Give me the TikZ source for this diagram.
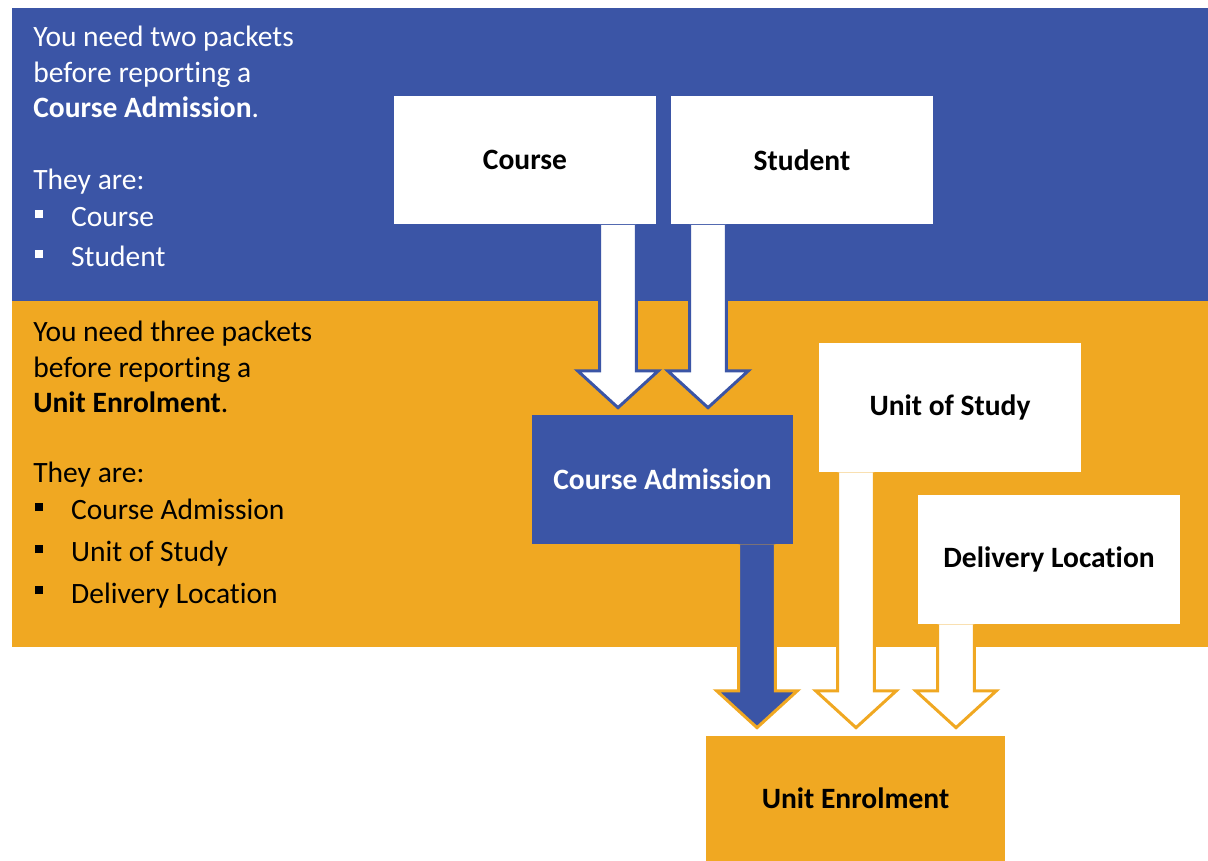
\documentclass[tikz,border=0pt]{standalone}
\usepackage{fontspec}
\setmainfont[Ligatures=NoCommon]{Carlito}
\usetikzlibrary{calc}
\definecolor{pkblue}{RGB}{59,85,166}
\definecolor{pkorange}{RGB}{240,168,34}
\tikzset{
	packet/.style={minimum width=5.24cm,minimum height=2.58cm,inner sep=0pt,font=\fontsize{16.8}{20}\selectfont\bfseries},
	txt/.style={anchor=base west,inner sep=0pt},
	onblue/.style={fill=white,draw=pkblue,line width=1.7pt},
	onorange/.style={fill=white,draw=pkorange,line width=1.7pt},
}
% block arrow: [style]{top of shaft}{tip}
\newcommand{\pkarrow}[3][]{%
	\draw[#1] let \p1=(#2), \p2=(#3) in
	(\x1-10.5pt,\y1) -- (\x1-10.5pt,\y2+21pt) -- (\x1-23pt,\y2+21pt) -- (\x1,\y2)
	-- (\x1+23pt,\y2+21pt) -- (\x1+10.5pt,\y2+21pt) -- (\x1+10.5pt,\y1);}
\newcommand{\sqbul}{\rule[5pt]{4.5pt}{4.5pt}\hspace{15.9pt}}
\begin{document}
\begin{tikzpicture}[x=0.02cm,y=-0.02cm,font=\fontsize{16.8}{20}\selectfont]
		\useasboundingbox (0,0) rectangle (1208,861);
		\fill[pkblue] (12,8) rectangle (1208,301);
		\fill[pkorange] (12,301) rectangle (1208,647);
		% left texts
		\begin{scope}[white]
		\node[txt] (t1) at (33,47) {You need two packets};
		\node[txt] (t2) at (33,83) {before reporting a};
		\node[txt] (t3) at (33,118) {{\bfseries Course Admission}.};
		\node[txt] (t4) at (33,190) {They are:};
		\node[txt] (t5) at (35,227) {\sqbul Course};
		\node[txt] (t6) at (35,267) {\sqbul Student};
		\end{scope}
		\node[txt] (u1) at (33,342) {You need three packets};
		\node[txt] (u2) at (33,378) {before reporting a};
		\node[txt] (u3) at (33,413) {{\bfseries Unit Enrolment}.};
		\node[txt] (u4) at (33,483) {They are:};
		\node[txt] (u5) at (35,520) {\sqbul Course Admission};
		\node[txt] (u6) at (35,562) {\sqbul Unit of Study};
		\node[txt] (u7) at (35,603) {\sqbul Delivery Location};
		% packets
		\node[packet,fill=white] (course) at (525,160) {Course};
		\node[packet,fill=white] (student) at (802,160) {Student};
		\node[packet,fill=pkblue,text=white,minimum width=5.22cm] (ca) at (662.5,479.5) {Course Admission};
		\node[packet,fill=white] (uos) at (950,407.5) {Unit of Study};
		\node[packet,fill=white] (dl) at (1049,559.5) {Delivery Location};
		\node[packet,fill=pkorange,minimum width=5.98cm,minimum height=2.5cm] (ue) at (855.5,798.5) {Unit Enrolment};
		% arrows
		\pkarrow[onblue]{$(course.south)+(93,0)$}{$(ca.north)+(-44.5,-7)$}
		\pkarrow[onblue]{$(student.south)+(-94,0)$}{$(ca.north)+(45.5,-7)$}
		\pkarrow[onorange,fill=pkblue]{$(ca.south)+(94.5,0)$}{$(ue.north)+(-98.5,-8)$}
		\pkarrow[onorange]{$(uos.south)+(-94,0)$}{$(ue.north)+(0.5,-8)$}
		\pkarrow[onorange]{$(dl.south)+(-93,0)$}{$(ue.north)+(100.5,-8)$}
\end{tikzpicture}
\end{document}
